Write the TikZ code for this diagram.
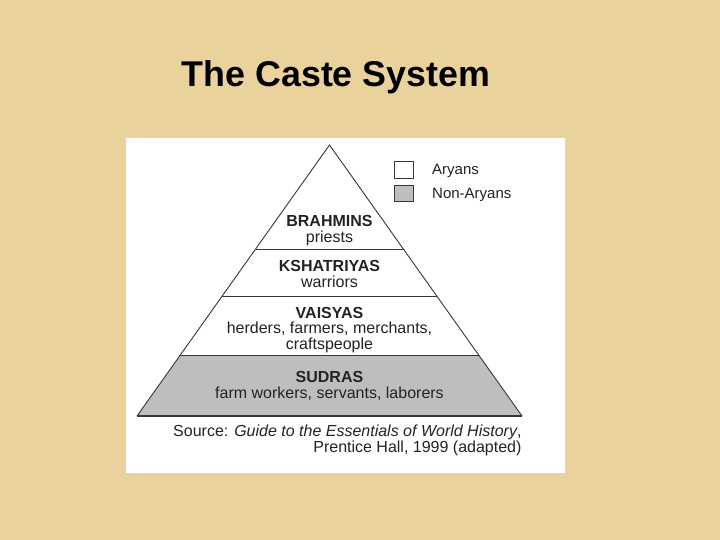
\documentclass[tikz,border=0pt]{standalone}
\usepackage{fontspec}
\setmainfont{Liberation Sans}
\usetikzlibrary{calc}
\definecolor{parch}{RGB}{233,210,155}
\definecolor{sudgray}{RGB}{190,190,192}
\definecolor{lineg}{RGB}{55,55,55}
\definecolor{txt}{RGB}{35,35,35}
\tikzset{
  lbl/.style={anchor=base, inner sep=0pt, text=txt, font=\fontsize{16}{19}\selectfont},
  bold/.style={lbl, font=\fontsize{16}{19}\selectfont\bfseries},
  leg/.style={anchor=base west, inner sep=0pt, text=txt, font=\fontsize{15}{18}\selectfont},
  legbox/.style={draw=lineg, line width=0.9pt, minimum width=19pt, minimum height=16.5pt, inner sep=0pt},
  tier/.style={draw=lineg, line width=0.9pt}
}
\begin{document}
\begin{tikzpicture}[x=1pt,y=-1pt]
\useasboundingbox (0,0) rectangle (720,540);
\fill[parch] (0,0) rectangle (720,540);
% title
\node[anchor=base, inner sep=0pt, font=\fontsize{35.8}{40}\selectfont\bfseries] (title) at (336,86.7) {The Caste System};
% white panel
\fill[white] (126,138) rectangle (565,473);
% pyramid geometry
\coordinate (apex) at (329.5,145);
\coordinate (bl) at (137,416);
\coordinate (br) at (522,416);
\coordinate (l1) at ($(apex)!0.384!(bl)$);
\coordinate (r1) at ($(apex)!0.384!(br)$);
\coordinate (l2) at ($(apex)!0.560!(bl)$);
\coordinate (r2) at ($(apex)!0.560!(br)$);
\coordinate (l3) at ($(apex)!0.775!(bl)$);
\coordinate (r3) at ($(apex)!0.775!(br)$);
\fill[sudgray] (l3) -- (r3) -- (br) -- (bl) -- cycle;
\draw[tier] (bl) -- (apex) -- (br);
\draw[tier] (l1) -- (r1);
\draw[tier] (l2) -- (r2);
\draw[tier] (l3) -- (r3);
\draw[lineg, line width=2pt] (bl) -- (br);
% tier labels
\node[bold] (brah) at (329.5,226.7) {BRAHMINS};
\node[lbl] (pri) at (329.5,242.7) {priests};
\node[bold] (ksha) at (329.5,271.7) {KSHATRIYAS};
\node[lbl] (war) at (329.5,287.3) {warriors};
\node[bold] (vais) at (329.5,318.3) {VAISYAS};
\node[lbl] (herd) at (329.5,333.4) {herders, farmers, merchants,};
\node[lbl] (craft) at (329.5,349) {craftspeople};
\node[bold] (sud) at (329.5,382.3) {SUDRAS};
\node[lbl] (farm) at (329.5,398.7) {farm workers, servants, laborers};
% legend
\node[legbox, fill=white] (boxa) at (404.3,170) {};
\node[legbox, fill=sudgray] (boxn) at (404.3,193.3) {};
\node[leg] (arya) at (432,175) {Aryans};
\node[leg] (nonarya) at (432,198.3) {Non-Aryans};
% source
\node[lbl, anchor=base east] (src1) at (521.7,436.7) {Source: \textit{Guide to the Essentials of World History},};
\node[lbl, anchor=base east] (src2) at (521.7,452.3) {Prentice Hall, 1999 (adapted)};
\end{tikzpicture}
\end{document}
